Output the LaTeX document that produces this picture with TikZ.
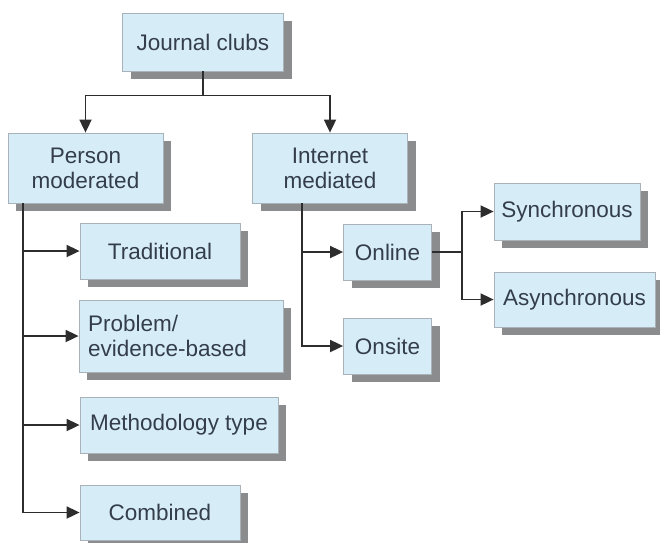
\documentclass[tikz,border=0pt]{standalone}
\usepackage{fontspec}
\setmainfont{Liberation Sans}
\usetikzlibrary{arrows.meta,shadows}
\definecolor{boxblue}{RGB}{214,237,248}
\definecolor{boxline}{RGB}{170,178,185}
\definecolor{shadowgray}{RGB}{138,140,142}
\definecolor{textgray}{RGB}{52,62,74}
\definecolor{linegray}{RGB}{45,45,45}
\begin{document}
\begin{tikzpicture}[x=1pt, y=-1pt, font=\fontsize{22.5}{25}\selectfont,
  box/.style={rectangle, draw=boxline, line width=0.8pt, fill=boxblue, text=textgray,
    inner sep=0pt, align=center,
    drop shadow={shadow xshift=8pt, shadow yshift=-8pt, fill=shadowgray, opacity=1}},
  link/.style={draw=linegray, line width=1.8pt},
  arr/.style={link, -{Triangle[length=13pt, width=12pt]}}]
  \useasboundingbox (0,0) rectangle (660,542);
  % top level
  \node[box, minimum width=161pt, minimum height=58pt] (jc) at (203,42) {Journal clubs};
  \node[box, minimum width=155pt, minimum height=70pt] (pm) at (85.5,168) {Person\\moderated};
  \node[box, minimum width=155pt, minimum height=70pt] (im) at (330,168) {Internet\\mediated};
  % person moderated branch
  \node[box, minimum width=160pt, minimum height=56pt] (trad) at (160,251) {Traditional};
  \node[box, minimum width=204pt, minimum height=72pt, text width=186pt, align=left] (prob) at (181,336) {Problem/\\evidence-based};
  \node[box, minimum width=198pt, minimum height=56pt] (meth) at (179,425) {Methodology type};
  \node[box, minimum width=160pt, minimum height=55pt] (comb) at (160,512.5) {Combined};
  % internet mediated branch
  \node[box, minimum width=88pt, minimum height=56pt] (online) at (387.5,252) {Online};
  \node[box, minimum width=88pt, minimum height=56pt] (onsite) at (387.5,346) {Onsite};
  \node[box, minimum width=146pt, minimum height=57pt] (sync) at (567,211.5) {Synchronous};
  \node[box, minimum width=161pt, minimum height=55pt] (async) at (574.5,299.5) {Asynchronous};
  % connectors
  \path (jc.south) ++(0,24) coordinate (split);
  \draw[link] (jc.south) -- (split);
  \draw[arr] (split) -| (pm.north);
  \draw[arr] (split) -| (im.north);
  \foreach \n in {trad,prob,meth,comb}
    \draw[arr] ([xshift=15pt]pm.south west) |- (\n.west);
  \foreach \n in {online,onsite}
    \draw[arr] ([xshift=50pt]im.south west) |- (\n.west);
  \foreach \n in {sync,async}
    \draw[arr] (online.east) -- ++(30,0) |- (\n.west);
\end{tikzpicture}
\end{document}
